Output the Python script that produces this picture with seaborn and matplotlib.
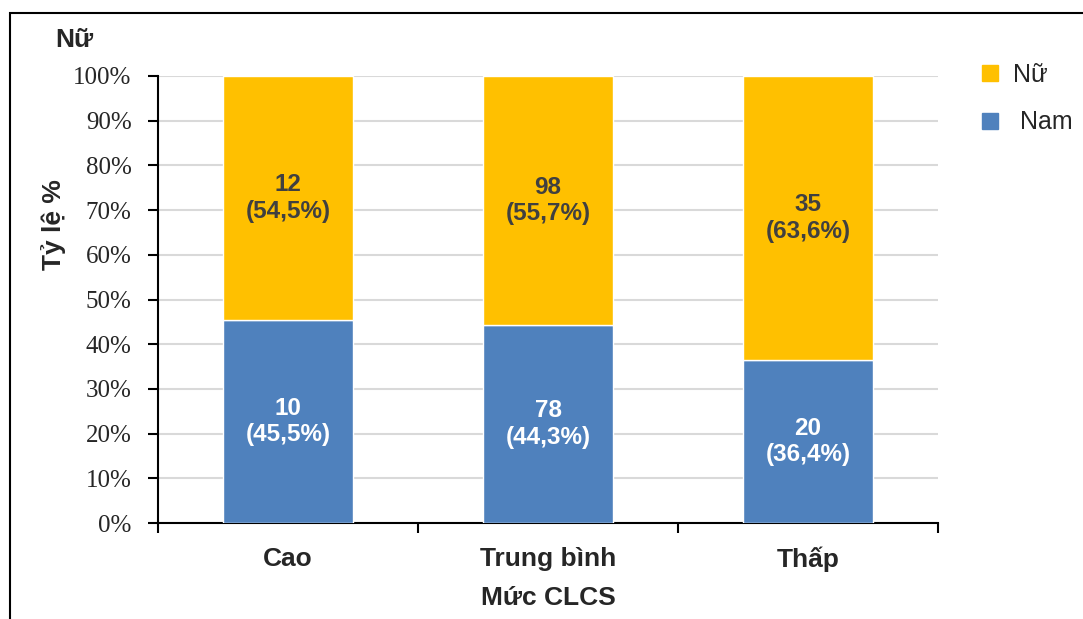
import matplotlib
matplotlib.use("Agg")
import matplotlib.pyplot as plt
import seaborn as sns
import pandas as pd
from matplotlib.lines import Line2D
from matplotlib.patches import Rectangle

# Dữ liệu
categories = ["Cao", "Trung bình", "Thấp"]
nam_counts = [10, 78, 20]
nu_counts = [12, 98, 35]
nam_pct = [45.5, 44.3, 36.4]
nu_pct = [54.5, 55.7, 63.6]
yticks = [0, 10, 20, 30, 40, 50, 60, 70, 80, 90, 100]

c_nu = "#FFC000"
c_nam = "#4F81BD"

sns.set_style("white")
plt.rcParams["font.family"] = ["Liberation Sans", "DejaVu Sans"]

fig = plt.figure(figsize=(10.83, 6.19), dpi=100)
ax = fig.add_axes([158 / 1083, 1 - 523 / 619, 780 / 1083, 447 / 619])

df = pd.DataFrame({"cat": categories, "nam": nam_pct, "nu": nu_pct})
sns.barplot(data=df, x="cat", y="nam", color=c_nam, width=0.5,
            saturation=1, ax=ax, zorder=3)
sns.barplot(data=df, x="cat", y="nu", color=c_nu, width=0.5,
            saturation=1, ax=ax, bottom=df["nam"], zorder=3)

ax.set_xlim(-0.5, 2.5)
ax.set_ylim(0, 100)
ax.set_yticks(yticks)
ax.set_yticklabels([f"{v}%" for v in yticks], fontfamily="Liberation Serif",
                   fontsize=18)
ax.yaxis.grid(True, color="#D9D9D9", linewidth=1.5, zorder=0)
ax.set_axisbelow(True)

# vạch chia nằm ở ranh giới giữa các nhóm
ax.set_xticks([-0.5, 0.5, 1.5, 2.5], minor=False)
ax.set_xticklabels([])
ax.set_xticks([0, 1, 2], minor=True)
ax.set_xticklabels(categories, minor=True, fontsize=19, fontweight="bold")
ax.tick_params(axis="x", which="major", direction="out", length=7, width=1.5,
               color="black", bottom=True)
ax.tick_params(axis="x", which="minor", length=0, pad=17)
ax.tick_params(axis="y", direction="out", length=7, width=1.5, color="black",
               left=True, pad=12)

for s in ["top", "right"]:
    ax.spines[s].set_visible(False)
for s in ["left", "bottom"]:
    ax.spines[s].set_color("black")
    ax.spines[s].set_linewidth(1.5)

ax.set_xlabel("Mức CLCS", fontsize=19, fontweight="bold", labelpad=10)
ax.set_ylabel("Tỷ lệ %", fontsize=19, fontweight="bold")
ax.yaxis.set_label_coords((66 - 158) / 780, (523 - 225) / 447)

# nhãn trên cột
for i in range(len(categories)):
    ax.text(i, nam_pct[i] / 2, f"{nam_counts[i]}\n({nam_pct[i]:.1f}%)".replace(".", ","),
            ha="center", va="center", color="white", fontsize=17.5,
            fontweight="bold", linespacing=1.2, zorder=4)
    ax.text(i, nam_pct[i] + nu_pct[i] / 2,
            f"{nu_counts[i]}\n({nu_pct[i]:.1f}%)".replace(".", ","),
            ha="center", va="center", color="#404040", fontsize=17.5,
            fontweight="bold", linespacing=1.2, zorder=4)

# chú thích
handles = [
    Line2D([], [], marker="s", linestyle="", color=c_nu, markersize=11),
    Line2D([], [], marker="s", linestyle="", color=c_nam, markersize=11),
]
fig.legend(handles, ["Nữ", " Nam"], loc="upper left",
           bbox_to_anchor=(952 / 1083, 1 - 40 / 619), frameon=False,
           fontsize=18, labelspacing=0.95, handletextpad=0.35,
           handlelength=1.2)

fig.text(55 / 1083, 1 - 40 / 619, "Nữ", fontsize=19, fontweight="bold",
         ha="left", va="center")

# khung ngoài
fig.patches.append(Rectangle((10 / 1083, -0.1), 1.2, 1 - 13 / 619 + 0.1,
                             transform=fig.transFigure, fill=False,
                             edgecolor="black", linewidth=1.5))

fig.savefig("out.png", dpi=100)
